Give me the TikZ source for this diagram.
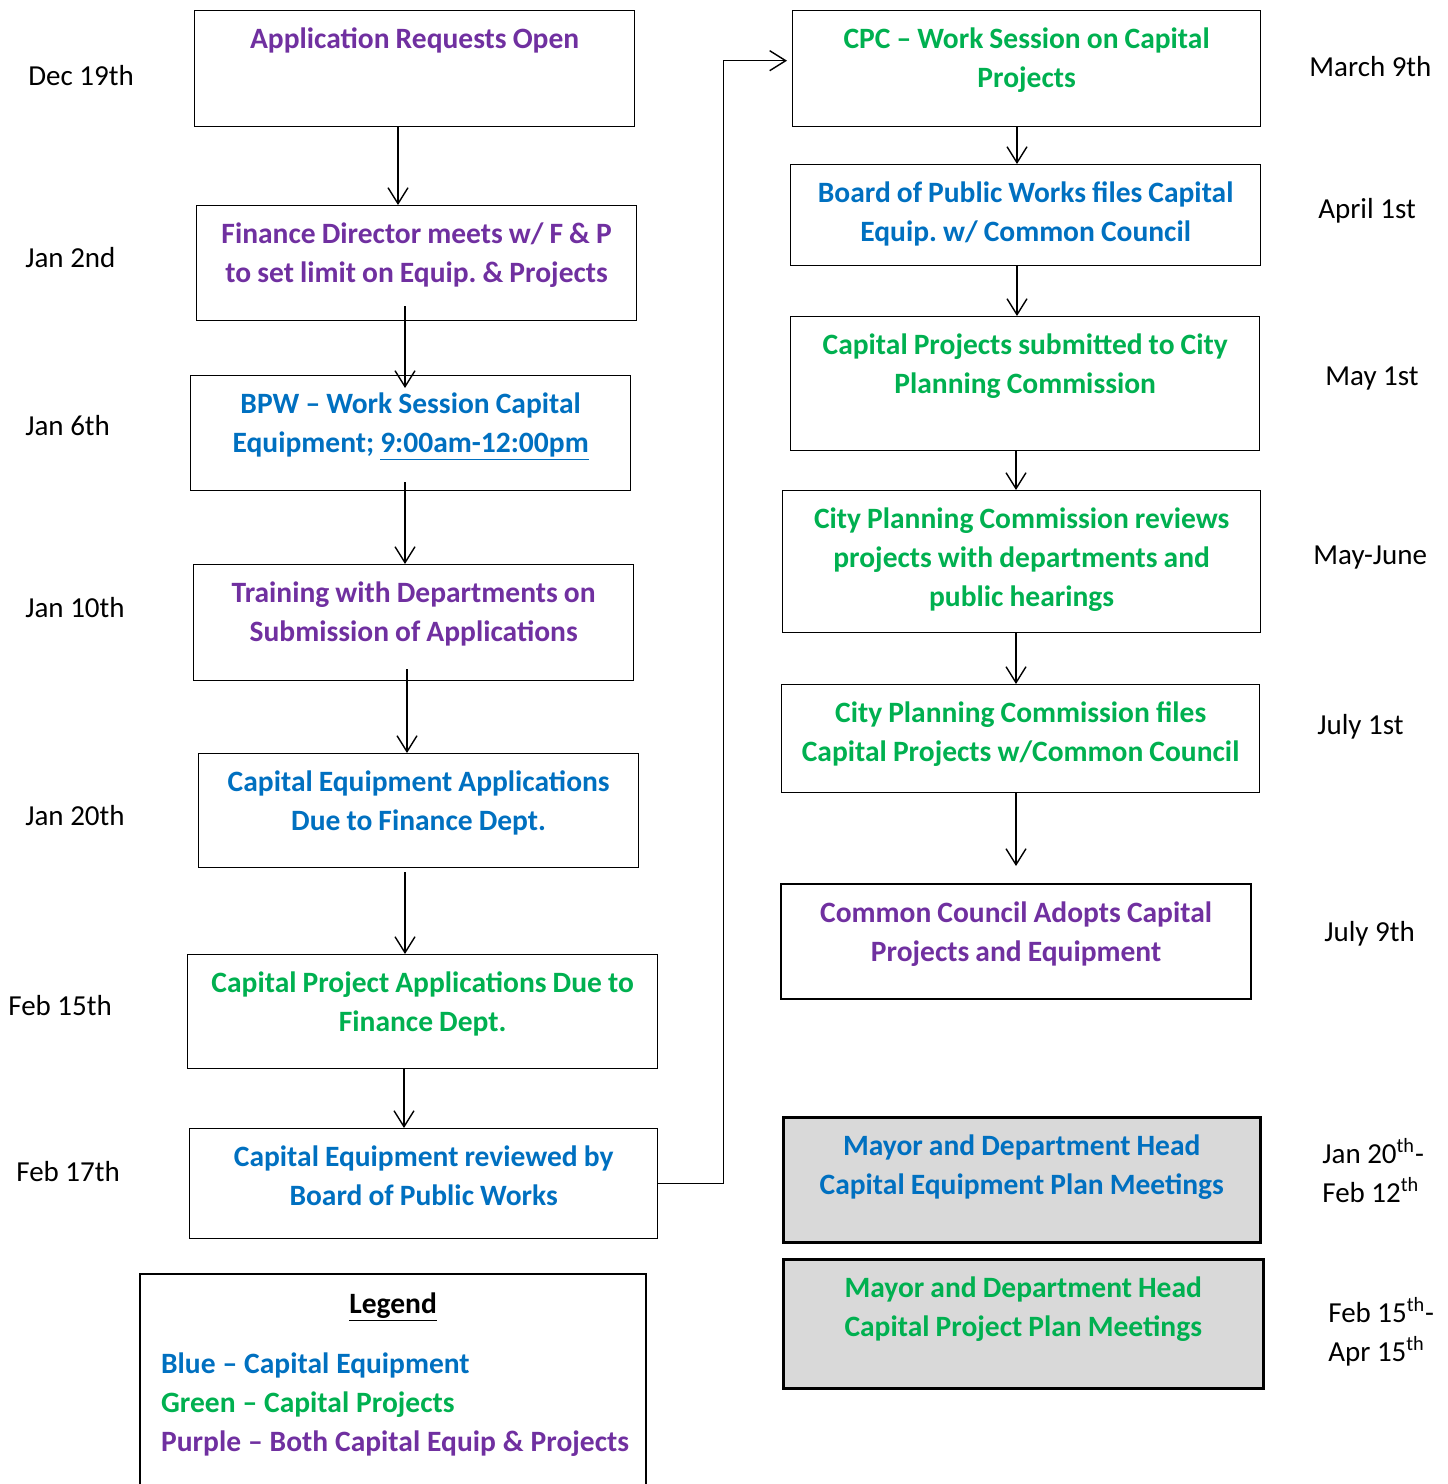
\documentclass[tikz,border=0pt]{standalone}
\usepackage{fontspec}
\setmainfont{Carlito}
\usepackage{tikz}
\usetikzlibrary{arrows.meta}
\frenchspacing

\definecolor{equipblue}{HTML}{0070C0}
\definecolor{projgreen}{HTML}{00B050}
\definecolor{bothpurple}{HTML}{7030A0}
\definecolor{meetgray}{HTML}{D9D9D9}

\newcommand\tightspace{\spaceskip=0.205em\relax}
\newcommand\legendspace{\spaceskip=0.235em\relax}

\tikzset{
  stage/.style={draw, line width=0.8pt, inner sep=0pt, anchor=north west, align=center,
    text height=7.6mm, font=\fontsize{16.8}{22.2}\selectfont\bfseries, execute at begin node=\tightspace},
  heavy/.style={line width=1.3pt},
  meet/.style={fill=meetgray, line width=1.5pt},
  date/.style={anchor=base west, inner sep=0pt, align=left, font=\fontsize{16.5}{22.2}\selectfont},
  flow/.style={line width=0.8pt, -{Straight Barb[length=3.2mm, width=4mm]}},
}

\begin{document}
\begin{tikzpicture}[x=0.02cm, y=-0.02cm]
	\useasboundingbox (0,0) rectangle (1447,1484);
	\clip (0,0) rectangle (1447,1484);
	% left column
	\node[stage, text=bothpurple, text width=88mm, text depth=15.6mm] (apply) at (194,10) {Application Requests Open};
	\node[stage, text=bothpurple, text width=88mm, text depth=15.4mm] (finance) at (196,205) {Finance Director meets w/ F \& P\\to set limit on Equip. \& Projects};
	\node[stage, text=equipblue, text width=88mm, text depth=15.4mm] (bpw) at (190,375) {BPW – Work Session Capital\\Equipment; \underline{9:00am-12:00pm}};
	\node[stage, text=bothpurple, text width=88mm, text depth=15.6mm] (training) at (193,564) {Training with Departments on\\Submission of Applications};
	\node[stage, text=equipblue, text width=88mm, text depth=15.2mm] (equipdue) at (198,753) {Capital Equipment Applications\\Due to Finance Dept.};
	\node[stage, text=projgreen, text width=94mm, text depth=15.2mm] (projdue) at (187,954) {Capital Project Applications Due to\\Finance Dept.};
	\node[stage, text=equipblue, text width=93.6mm, text depth=14.4mm] (review) at (189,1128) {Capital Equipment reviewed by\\Board of Public Works};
	\node[stage, heavy, text=black, align=left, inner xsep=4.2mm, text width=92.8mm, text height=7.8mm, text depth=38mm,
	  execute at begin node=\legendspace] (legend) at (139,1273)
	  {\hfill\underline{Legend}\hfill\null\\[4.2mm]
	   \textcolor{equipblue}{Blue – Capital Equipment}\\
	   \textcolor{projgreen}{Green – Capital Projects}\\
	   \mbox{\textcolor{bothpurple}{Purple – Both Capital Equip \& Projects}}};
	% right column
	\node[stage, text=projgreen, text width=93.6mm, text depth=15.6mm] (cpc) at (792,10) {CPC – Work Session on Capital\\Projects};
	\node[stage, text=equipblue, text width=94mm, text depth=12.6mm] (bpwfiles) at (790,164) {Board of Public Works files Capital\\Equip. w/ Common Council};
	\node[stage, text=projgreen, text width=93.8mm, text depth=19.2mm] (submit) at (790,316) {Capital Projects submitted to City\\Planning Commission};
	\node[stage, text=projgreen, text width=95.6mm, text depth=20.8mm] (hearings) at (782,490) {City Planning Commission reviews\\projects with departments and\\public hearings};
	\node[stage, text=projgreen, text width=95.6mm, text depth=14mm] (cpcfiles) at (781,684) {City Planning Commission files\\Capital Projects w/Common Council};
	\node[stage, heavy, text=bothpurple, text width=94mm, text depth=15.4mm] (adopt) at (780,883) {Common Council Adopts Capital\\Projects and Equipment};
	\node[stage, meet, text=equipblue, text width=95.4mm, text depth=17.4mm] (equipmeet) at (782,1116) {Mayor and Department Head\\Capital Equipment Plan Meetings};
	\node[stage, meet, text=projgreen, text width=96mm, text depth=18.2mm] (projmeet) at (782,1258) {Mayor and Department Head\\Capital Project Plan Meetings};
	% dates
	\node[date] (dapply) at (28,85.5) {Dec 19th};
	\node[date] (dfinance) at (25,267.5) {Jan 2nd};
	\node[date] (dbpw) at (25,435.5) {Jan 6th};
	\node[date] (dtraining) at (25,617.5) {Jan 10th};
	\node[date] (dequipdue) at (25,825.5) {Jan 20th};
	\node[date] (dprojdue) at (8,1015.5) {Feb 15th};
	\node[date] (dreview) at (16,1181.5) {Feb 17th};
	\node[date] (dcpc) at (1309,76.5) {March 9th};
	\node[date] (dbpwfiles) at (1318,218.5) {April 1st};
	\node[date] (dsubmit) at (1325,385.5) {May 1st};
	\node[date] (dhearings) at (1313,564.5) {May-June};
	\node[date] (dcpcfiles) at (1317,734.5) {July 1st};
	\node[date] (dadopt) at (1324,941.5) {July 9th};
	\node[date, anchor=west] (dequipmeet) at (1322,1171) {Jan 20\textsuperscript{th}-\\Feb 12\textsuperscript{th}};
	\node[date, anchor=west] (dprojmeet) at (1328,1332) {Feb 15\textsuperscript{th}-\\Apr 15\textsuperscript{th}};
	% connectors
	\draw[flow] (apply.south -| 398,0) -- (finance.north -| 398,0);
	\draw[flow, shorten <=-3mm, shorten >=-2.6mm] (finance.south -| 405,0) -- (bpw.north -| 405,0);
	\draw[flow, shorten <=-1.8mm] (bpw.south -| 405,0) -- (training.north -| 405,0);
	\draw[flow, shorten <=-2.4mm] (training.south -| 407,0) -- (equipdue.north -| 407,0);
	\draw[flow, shorten <=0.8mm] (equipdue.south -| 405,0) -- (projdue.north -| 405,0);
	\draw[flow] (projdue.south -| 404,0) -- (review.north -| 404,0);
	\draw[flow, shorten >=1mm] (review.east) -- ++(65,0) |- ([yshift=1.6mm]cpc.west);
	\draw[flow] (cpc.south -| 1017,0) -- (bpwfiles.north -| 1017,0);
	\draw[flow] (bpwfiles.south -| 1017,0) -- (submit.north -| 1017,0);
	\draw[flow] (submit.south -| 1016,0) -- (hearings.north -| 1016,0);
	\draw[flow] (hearings.south -| 1016,0) -- (cpcfiles.north -| 1016,0);
	\draw[flow, shorten >=3.4mm] (cpcfiles.south -| 1016,0) -- (adopt.north -| 1016,0);
\end{tikzpicture}
\end{document}
